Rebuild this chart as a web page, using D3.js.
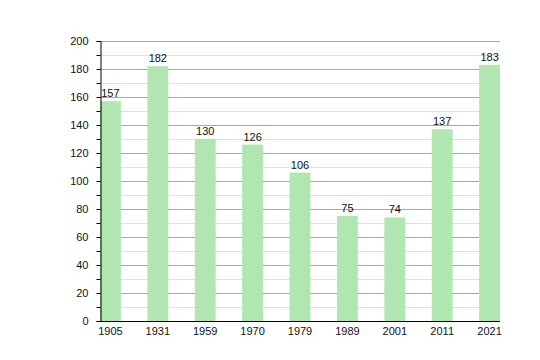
<!DOCTYPE html>
<html><head><meta charset="utf-8">
<script src="https://cdn.jsdelivr.net/npm/d3@7"></script>
<style>body{margin:0;background:#fff}svg{display:block}text{font-family:"Liberation Sans",Arial,sans-serif;}</style>
</head><body>
<script>
const years = ["1905","1931","1959","1970","1979","1989","2001","2011","2021"];
const values = [157,182,130,126,106,75,74,137,183];
const yTicks = [0,20,40,60,80,100,120,140,160,180,200];
const minorTicks = [10,30,50,70,90,110,130,150,170,190];

const W=540,H=360;
const svg=d3.select("body").append("svg").attr("width",W).attr("height",H);
const x=d3.scaleBand().domain(years).range([100,500]).paddingInner(0.56).paddingOuter(0);
const y=d3.scaleLinear().domain([0,200]).range([321,41]);

// minor grid
svg.append("g").selectAll("line").data(minorTicks).join("line")
 .attr("x1",100).attr("x2",500).attr("y1",d=>y(d)+0.5).attr("y2",d=>y(d)+0.5)
 .attr("stroke","#e0e0e0").attr("stroke-width",1);
// major grid
svg.append("g").selectAll("line").data(yTicks.filter(d=>d>0)).join("line")
 .attr("x1",100).attr("x2",500).attr("y1",d=>y(d)+0.5).attr("y2",d=>y(d)+0.5)
 .attr("stroke","#a8a8a8").attr("stroke-width",1);

// bars
svg.append("g").selectAll("rect").data(values).join("rect")
 .attr("x",(d,i)=>x(years[i])).attr("width",x.bandwidth())
 .attr("y",d=>y(d)).attr("height",d=>y(0)-y(d))
 .attr("fill","#b1e5b1");

// value labels
svg.append("g").selectAll("text").data(values).join("text")
 .attr("x",(d,i)=>x(years[i])+x.bandwidth()/2).attr("y",d=>y(d)-4)
 .attr("text-anchor","middle").attr("font-size",11).attr("fill","#111")
 .text(d=>d);

// y axis
const yAxis=d3.axisLeft(y).tickValues(yTicks).tickSize(4).tickPadding(8);
const ga=svg.append("g").attr("transform","translate(100.5,0)").call(yAxis);
ga.select(".domain").attr("stroke","#000");
ga.selectAll(".tick line").attr("stroke","#000");
ga.selectAll(".tick text").attr("font-size",11).attr("fill","#111").attr("font-family","Liberation Sans, Arial, sans-serif");
const gm=svg.append("g").attr("transform","translate(100.5,0)").call(d3.axisLeft(y).tickValues(minorTicks).tickSize(4).tickFormat(""));
gm.select(".domain").remove();
gm.selectAll(".tick line").attr("stroke","#000");

// x axis
const gx=svg.append("g").attr("transform","translate(0,321.5)").call(d3.axisBottom(x).tickSize(0).tickPadding(6));
gx.select(".domain").attr("stroke","#000").attr("d","M100,0H500");
gx.selectAll(".tick text").attr("font-size",11).attr("fill","#111").attr("font-family","Liberation Sans, Arial, sans-serif");
</script>
</body></html>
